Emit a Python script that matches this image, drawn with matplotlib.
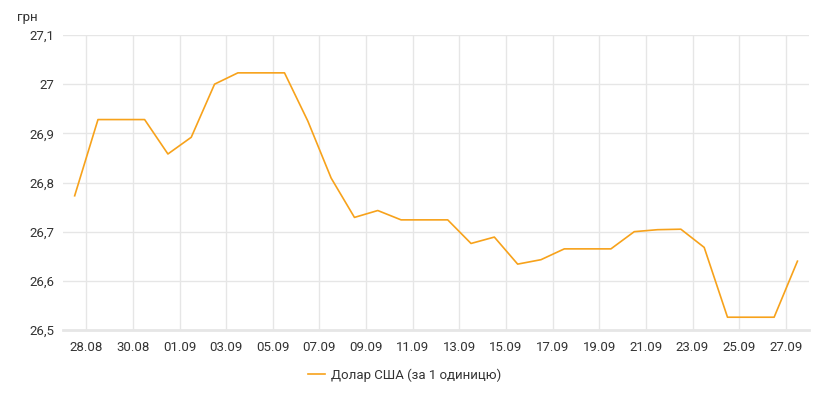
import matplotlib
matplotlib.use("Agg")
import matplotlib.pyplot as plt
import matplotlib.dates as mdates
import matplotlib.ticker as mticker
import pandas as pd

plt.rcParams['font.family'] = ['Roboto', 'DejaVu Sans']

# daily USD rate, 27.08 - 27.09
dates = pd.date_range("2021-08-27 12:00", "2021-09-27 12:00", freq="D")
rates = [26.773, 26.928, 26.928, 26.928, 26.858, 26.892, 27.000, 27.023,
         27.023, 27.023, 26.925, 26.809, 26.729, 26.743, 26.724, 26.724,
         26.724, 26.676, 26.689, 26.634, 26.643, 26.665, 26.665, 26.665,
         26.700, 26.704, 26.705, 26.668, 26.526, 26.526, 26.526, 26.640]
series_label = "Долар США (за 1 одиницю)"
tick_dates = pd.date_range("2021-08-28", "2021-09-27", freq="2D")

fig = plt.figure(figsize=(8.29, 4.0), dpi=100)
ax = fig.add_axes([0.076, 0.175, 0.9, 0.7375])

ax.plot(dates, rates, color='#f7a21b', lw=1.2, label=series_label)

ax.set_xlim(pd.Timestamp("2021-08-27"), pd.Timestamp("2021-09-28"))
ax.set_ylim(26.5, 27.1)
ax.set_xticks(tick_dates)
ax.xaxis.set_major_formatter(mdates.DateFormatter("%d.%m"))
ax.set_yticks([26.5, 26.6, 26.7, 26.8, 26.9, 27.0, 27.1])

def fmt(v, pos):
    s = ("%.1f" % v)
    if s.endswith(".0"):
        s = s[:-2]
    return s.replace(".", ",")

ax.yaxis.set_major_formatter(mticker.FuncFormatter(fmt))

ax.grid(True, color='#e6e6e6', lw=1)
ax.set_axisbelow(True)
for s in ['top', 'right', 'left']:
    ax.spines[s].set_visible(False)
ax.spines['bottom'].set_color('#e6e6e6')
ax.spines['bottom'].set_linewidth(2)
ax.tick_params(axis='both', length=0, labelsize=9.5, colors='#333333')
ax.tick_params(axis='x', pad=8)
ax.tick_params(axis='y', pad=6)

fig.text(0.020, 0.955, "грн", fontsize=9.5, color='#333333', va='center')

fig.legend(loc='center', bbox_to_anchor=(0.488, 0.062), frameon=False,
           fontsize=9.5, handlelength=1.3, handletextpad=0.4,
           labelcolor='#333333')

fig.savefig("out.png", dpi=100)
